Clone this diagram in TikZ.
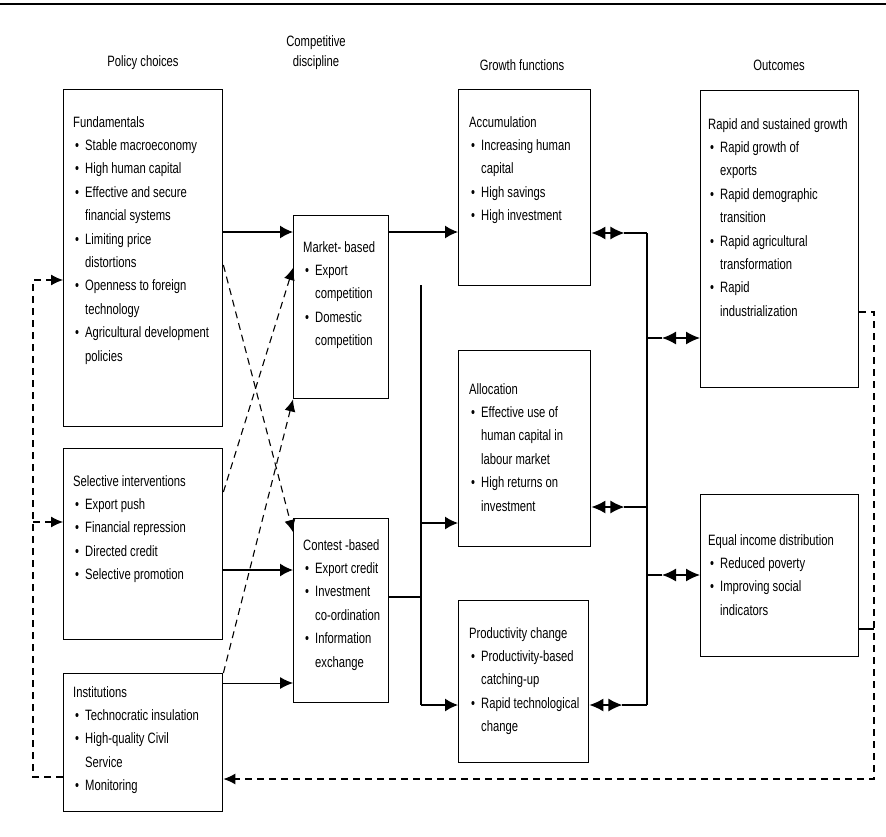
\documentclass[tikz,border=0pt]{standalone}
\usepackage{fontspec}
\setmainfont{Liberation Sans}[FakeStretch=0.75]
\usetikzlibrary{arrows.meta,positioning}

\newcommand{\bul}{\makebox[12pt][l]{\hspace{2pt}\textbullet}}
\newcommand{\ind}{\hspace*{12pt}}

\begin{document}
\begin{tikzpicture}[
				x=1pt, y=-1pt,
				box/.style={draw, line width=1.4pt, anchor=north west, inner sep=0pt},
				txt/.style={anchor=north west, align=left, inner sep=0pt, font=\fontsize{15}{23.4}\selectfont},
				head/.style={align=center, font=\fontsize{15}{20}\selectfont},
				link/.style={line width=1.1pt},
				arrow/.style={line width=1.4pt, -{Latex[length=13pt,width=13pt]}},
				thinarrow/.style={line width=1pt, -{Latex[length=13pt,width=12pt]}},
				dblarrow/.style={line width=1.4pt, {Latex[length=14pt,width=13pt]}-{Latex[length=14pt,width=13pt]}},
				feedback/.style={line width=1.1pt, dash pattern=on 7pt off 5pt},
				dasharrow/.style={feedback, -{Latex[length=12pt,width=11pt]}},
			]
				\useasboundingbox (0,0) rectangle (886,836);
				\draw[line width=1.4pt] (0,4) -- (886,4);

				\node[head] (hpolicy) at (143,63) {Policy choices};
				\node[head] (hcomp) at (316,53) {Competitive\\discipline};
				\node[head] (hgrowth) at (522,65) {Growth functions};
				\node[head] (hout) at (779,65) {Outcomes};

				\node[box, minimum width=159pt, minimum height=337pt] (fund) at (63,89) {};
				\node[box, minimum width=159pt, minimum height=191pt] (sel) at (63,448) {};
				\node[box, minimum width=159pt, minimum height=138pt] (inst) at (63,673) {};
				\node[box, minimum width=95pt, minimum height=183pt] (mkt) at (293,215) {};
				\node[box, minimum width=95pt, minimum height=184pt] (cst) at (293,518) {};
				\node[box, minimum width=132pt, minimum height=196pt] (acc) at (458,89) {};
				\node[box, minimum width=132pt, minimum height=196pt] (alc) at (458,350) {};
				\node[box, minimum width=130pt, minimum height=162pt] (prd) at (458,600) {};
				\node[box, minimum width=158pt, minimum height=297pt] (grw) at (700,90) {};
				\node[box, minimum width=158pt, minimum height=162pt] (eqd) at (700,494) {};

				\node[txt, below right=27pt and 10pt of fund.north west] (fundtxt) {Fundamentals\\
					\bul Stable macroeconomy\\ \bul High human capital\\ \bul Effective and secure\\ \ind financial systems\\
					\bul Limiting price\\ \ind distortions\\ \bul Openness to foreign\\ \ind technology\\
					\bul Agricultural development\\ \ind policies};
				\node[txt, below right=27pt and 10pt of sel.north west] (seltxt) {Selective interventions\\
					\bul Export push\\ \bul Financial repression\\ \bul Directed credit\\ \bul Selective promotion};
				\node[txt, below right=13pt and 10pt of inst.north west] (insttxt) {Institutions\\
					\bul Technocratic insulation\\ \bul High-quality Civil\\ \ind Service\\ \bul Monitoring};
				\node[txt, below right=26pt and 10pt of mkt.north west] (mkttxt) {Market- based\\
					\bul Export\\ \ind competition\\ \bul Domestic\\ \ind competition};
				\node[txt, below right=21pt and 10pt of cst.north west] (csttxt) {Contest -based\\
					\bul Export credit\\ \bul Investment\\ \ind co-ordination\\ \bul Information\\ \ind exchange};
				\node[txt, below right=27pt and 11pt of acc.north west] (acctxt) {Accumulation\\
					\bul Increasing human\\ \ind capital\\ \bul High savings\\ \bul High investment};
				\node[txt, below right=33pt and 11pt of alc.north west] (alctxt) {Allocation\\
					\bul Effective use of\\ \ind human capital in\\ \ind labour market\\ \bul High returns on\\ \ind investment};
				\node[txt, below right=27pt and 11pt of prd.north west] (prdtxt) {Productivity change\\
					\bul Productivity-based\\ \ind catching-up\\ \bul Rapid technological\\ \ind change};
				\node[txt, below right=28pt and 8pt of grw.north west] (grwtxt) {Rapid and sustained growth\\
					\bul Rapid growth of\\ \ind exports\\ \bul Rapid demographic\\ \ind transition\\
					\bul Rapid agricultural\\ \ind transformation\\ \bul Rapid\\ \ind industrialization};
				\node[txt, below right=40pt and 8pt of eqd.north west] (eqdtxt) {Equal income distribution\\
					\bul Reduced poverty\\ \bul Improving social\\ \ind indicators};

				\draw[arrow] (fund.east |- 0,232) -- (mkt.west |- 0,232);
				\draw[arrow] (mkt.east |- 0,232) -- (acc.west |- 0,232);
				\draw[arrow] (sel.east |- 0,570) -- (cst.west |- 0,570);
				\draw[thinarrow] (inst.east |- 0,683) -- (cst.west |- 0,683);

				\draw[dasharrow] (fund.east |- 0,265) -- (cst.west |- 0,532);
				\draw[dasharrow] (sel.east |- 0,492) -- (mkt.west |- 0,268);
				\draw[dasharrow] (inst.north east) -- (mkt.south west);

				\coordinate (trunktop) at (421,285);
				\coordinate (trunkbot) at (421,705);
				\draw[link] (trunktop) -- (trunkbot);
				\draw[link] (cst.east |- 0,597) -- (trunktop |- 0,597);
				\draw[arrow] (trunktop |- 0,523) -- (alc.west |- 0,523);
				\draw[arrow] (trunkbot) -- (prd.west |- trunkbot);

				\coordinate (bustop) at (647,233);
				\coordinate (busbot) at (647,705);
				\draw[link] (bustop) -- (busbot);
				\draw[dblarrow] (acc.east |- bustop) -- ++(33,0) coordinate (accend);
				\draw[link] (accend) -- (bustop);
				\draw[dblarrow] (alc.east |- 0,507) -- ++(33,0) coordinate (alcend);
				\draw[link] (alcend) -- (bustop |- alcend);
				\draw[dblarrow] (prd.east |- busbot) -- ++(33,0) coordinate (prdend);
				\draw[link] (prdend) -- (busbot);

				\draw[link] (bustop |- 0,338) -- ++(15,0) coordinate (grwstart);
				\draw[dblarrow] (grwstart) -- (grw.west |- grwstart);
				\draw[link] (bustop |- 0,575) -- ++(15,0) coordinate (eqdstart);
				\draw[dblarrow] (eqdstart) -- (eqd.west |- eqdstart);

				\coordinate (fbright) at (874,779);
				\coordinate (fbleft) at (33,777);
				\draw[dasharrow] (grw.east |- 0,312) -| (fbright) -- (inst.east |- fbright);
				\draw[link] (eqd.east |- 0,629) -- (fbright |- 0,629);
				\draw[dasharrow] (inst.west |- fbleft) -- (fbleft) |- (fund.west |- 0,280);
				\draw[dasharrow] (fbleft |- 0,522) -- (sel.west |- 0,522);
			\end{tikzpicture}
\end{document}
